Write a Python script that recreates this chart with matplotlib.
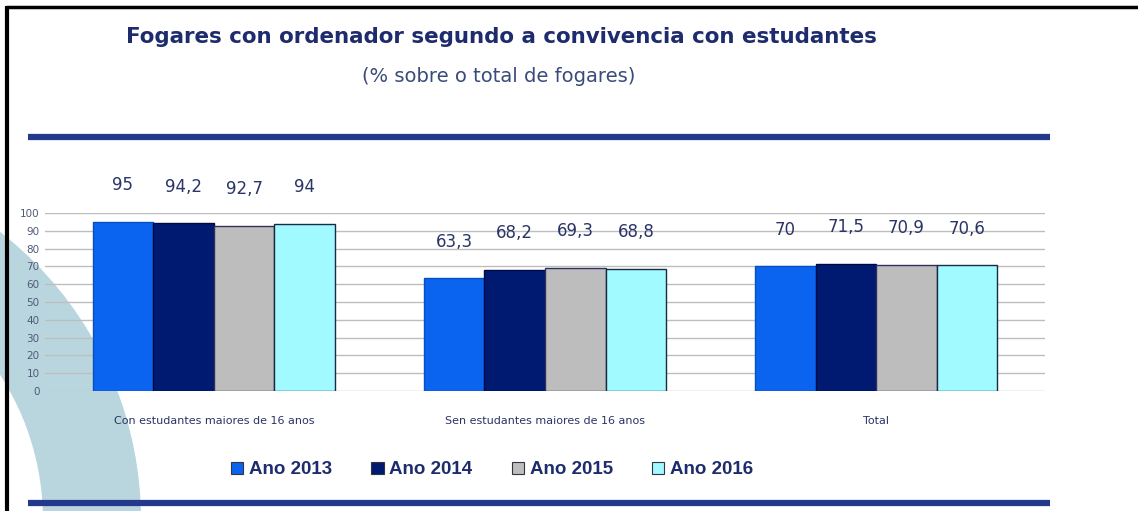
import matplotlib
matplotlib.use("Agg")
import matplotlib.pyplot as plt
import numpy as np
from matplotlib.patches import Wedge, Rectangle

categories = ["Con estudantes maiores de 16 anos", "Sen estudantes maiores de 16 anos", "Total"]
series_names = ["Ano 2013", "Ano 2014", "Ano 2015", "Ano 2016"]
v2013 = [95, 63.3, 70]
v2014 = [94.2, 68.2, 71.5]
v2015 = [92.7, 69.3, 70.9]
v2016 = [94, 68.8, 70.6]
yticks = [0, 10, 20, 30, 40, 50, 60, 70, 80, 90, 100]

series = [v2013, v2014, v2015, v2016]
colors = ["#0A64F0", "#001A72", "#BDBDBD", "#A0FAFF"]
edges = ["#0A4FC0", "#000A40", "#303060", "#1A2A40"]

W, H = 1138, 511
fig = plt.figure(figsize=(W / 100, H / 100), dpi=100)
fig.patch.set_facecolor("white")

# background decoration layer in pixel coordinates
bg = fig.add_axes([0, 0, 1, 1], zorder=0)
bg.set_xlim(0, W)
bg.set_ylim(H, 0)
bg.axis("off")
bg.add_patch(Wedge((-224, 520), 365, 270, 360, width=98,
                   facecolor="#B9D6DF", edgecolor="none"))
bg.plot([7, 7], [6, 511], color="black", lw=3, solid_capstyle="butt")
bg.plot([6, W], [7, 7], color="black", lw=2.5, solid_capstyle="butt")
bg.plot([28, 1050], [137, 137], color="#233A8C", lw=4.5, solid_capstyle="butt")
bg.plot([28, 1050], [503, 503], color="#233A8C", lw=4.5, solid_capstyle="butt")

# titles
fig.text(501 / W, 1 - 37 / H, "Fogares con ordenador segundo a convivencia con estudantes",
         ha="center", va="center", fontsize=15.4, fontweight="bold", color="#1E2C6E",
         family="DejaVu Sans")
fig.text(499 / W, 1 - 76 / H, "(% sobre o total de fogares)",
         ha="center", va="center", fontsize=14, color="#3A4A7A", family="DejaVu Sans")

# main axes
ax = fig.add_axes([45 / W, 1 - 391 / H, 1000 / W, 178 / H], zorder=2)
ax.patch.set_alpha(0)
x = np.arange(len(categories))
bw = 0.183
for i, (vals, c, ec) in enumerate(zip(series, colors, edges)):
    pos = x + (i - 1.5) * bw
    ax.bar(pos, vals, width=bw, color=c, edgecolor=ec, linewidth=1.0,
           label=series_names[i], zorder=3)
    for p, v in zip(pos, vals):
        ax.annotate(f"{v:g}".replace(".", ","), (p, v), xytext=(0, 20),
                    textcoords="offset points", ha="center", va="bottom",
                    fontsize=12, color="#2A3466", annotation_clip=False)

ax.set_xlim(-0.51, 2.51)
ax.set_ylim(0, 100)
ax.set_yticks(yticks)
ax.set_yticklabels([str(t) for t in yticks], fontsize=7.5, color="#505A78")
ax.yaxis.grid(True, color="#BEBEBE", lw=1, zorder=0)
ax.set_axisbelow(True)
ax.tick_params(axis="y", length=0, pad=4)
ax.tick_params(axis="x", length=0, pad=18)
ax.set_xticks(x)
ax.set_xticklabels(categories, fontsize=8, color="#2A3466")
for s in ax.spines.values():
    s.set_visible(False)

# legend
handles = [Rectangle((0, 0), 1, 1, facecolor=c, edgecolor="#333344", lw=0.8) for c in colors]
fig.legend(handles, series_names, loc="center", bbox_to_anchor=(492 / W, 1 - 470 / H),
           ncol=4, frameon=False, handlelength=0.65, handleheight=0.65, handletextpad=0.3,
           columnspacing=2.1, prop={"family": "Liberation Sans", "weight": "bold", "size": 13.5},
           labelcolor="#1E2C6E")

fig.savefig("out.png", dpi=100)
